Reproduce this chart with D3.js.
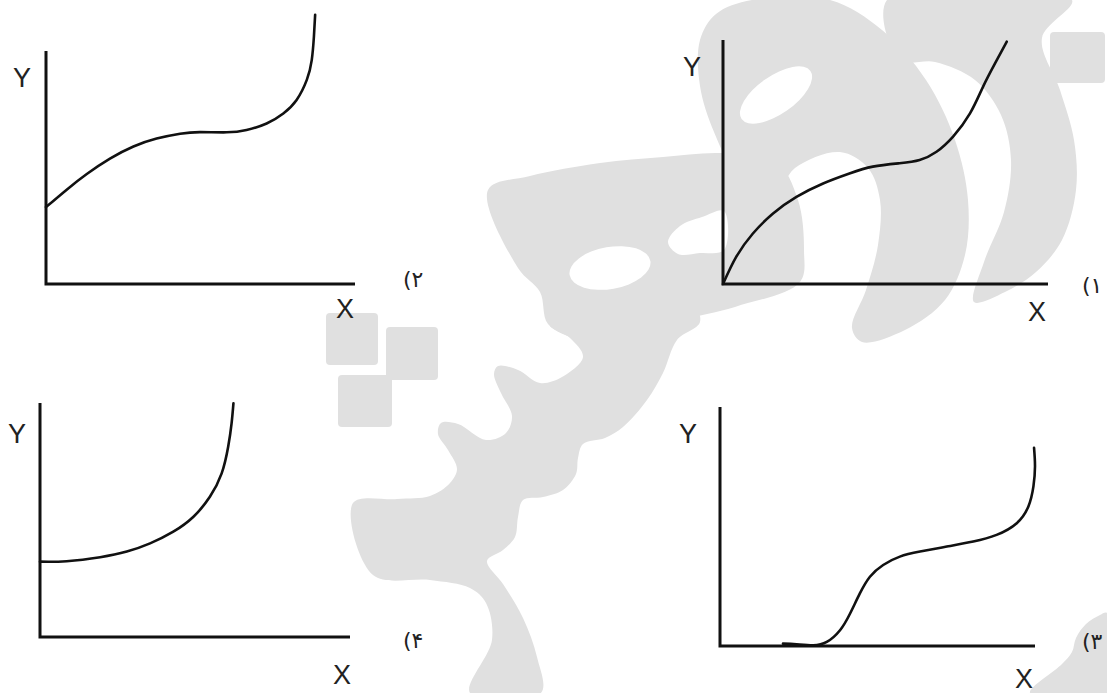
<!DOCTYPE html>
<html>
<head>
<meta charset="utf-8">
<script src="https://cdn.jsdelivr.net/npm/d3@7"></script>
<style>
  html, body { margin: 0; padding: 0; background: #ffffff; }
  svg { display: block; }
</style>
</head>
<body>
<svg id="chart" width="1107" height="693"></svg>
<script>
// ---------- data ----------
// panel order: top-left, top-right, bottom-left, bottom-right
const panelNames = ["(۲", "(۱", "(۴", "(۳"];
const axisLabelX = "X";
const axisLabelY = "Y";

// Panel (۲): rises, flattens, then shoots up
const curve2X = [0, 0.67, 1.32, 2.07, 2.83, 3.58, 4.34, 4.98, 5.85, 6.49, 7.14, 7.68, 8.11, 8.44, 8.60, 8.67, 8.71];
const curve2Y = [3.30, 4.05, 4.72, 5.38, 5.90, 6.24, 6.45, 6.52, 6.51, 6.61, 6.89, 7.32, 7.90, 8.76, 9.61, 10.61, 11.55];

// Panel (۱): from origin, concave then convex
const curve1X = [0, 0.41, 0.92, 1.54, 2.26, 3.08, 3.89, 4.61, 5.43, 6.05, 6.57, 7.08, 7.60, 8.00, 8.37, 8.73];
const curve1Y = [0, 1.12, 2.07, 2.89, 3.57, 4.12, 4.53, 4.81, 4.95, 5.08, 5.42, 6.04, 6.99, 8.08, 9.04, 9.93];

// Panel (۴): convex growth from an intercept
const curve4X = [0, 0.86, 1.94, 2.80, 3.55, 4.30, 4.95, 5.48, 5.86, 6.07, 6.18, 6.24];
const curve4Y = [3.22, 3.24, 3.41, 3.65, 4.00, 4.50, 5.14, 5.99, 6.99, 8.13, 9.13, 9.99];

// Panel (۳): zero, S-rise, plateau, final rise
const curve3X = [2.00, 2.43, 2.96, 3.39, 3.81, 4.13, 4.44, 4.76, 5.18, 5.71, 6.35, 7.20, 8.04, 8.78, 9.42, 9.79, 9.95, 10.00, 9.97];
const curve3Y = [0.10, 0.07, 0.03, 0.17, 0.66, 1.36, 2.20, 2.90, 3.39, 3.74, 3.95, 4.16, 4.37, 4.65, 5.14, 5.84, 6.68, 7.52, 8.29];

// ---------- layout ----------
const panels = [
  { name: panelNames[0], xs: curve2X, ys: curve2Y, x0: 46,  x1: 355,  yb: 284, yt: 51,
    yl: [22, 78],  xl: [345, 309], nl: [403, 287] },
  { name: panelNames[1], xs: curve1X, ys: curve1Y, x0: 723, x1: 1048, yb: 284, yt: 40,
    yl: [692, 67], xl: [1037, 312], nl: [1082, 293] },
  { name: panelNames[2], xs: curve4X, ys: curve4Y, x0: 40,  x1: 350,  yb: 637, yt: 403,
    yl: [17, 434], xl: [342, 675], nl: [403, 648] },
  { name: panelNames[3], xs: curve3X, ys: curve3Y, x0: 720, x1: 1035, yb: 646, yt: 407,
    yl: [688, 434], xl: [1024, 679], nl: [1082, 649] }
];

const svg = d3.select("#chart");

// ---------- watermark (light grey logo shapes) ----------
const wmColor = "#e0e0e0";
const wmShapes = [
  // right stroke
  [[887,0],[1072,0],[1042,38],[1060,90],[1074,140],[1076,190],[1062,240],[1036,272],[1005,292],[974,302],[984,262],[1004,212],[1011,160],[1001,115],[975,80],[935,62],[900,60]],
  // loop shape with tail
  [[700,40],[716,14],[752,0],[830,0],[882,30],[926,80],[955,140],[968,200],[965,255],[945,300],[905,330],[862,342],[852,328],[866,290],[878,245],[880,200],[868,168],[840,152],[795,168],[772,200],[740,180],[714,132],[700,86]],
  // band + he
  [[488,190],[530,176],[600,163],[663,157],[720,153],[775,160],[798,200],[804,250],[800,282],[735,307],[683,322],[660,345],[620,347],[580,340],[548,324],[540,292],[518,268]],
  // lower stroke with teeth
  [[690,300],[700,322],[677,340],[663,373],[647,400],[623,427],[605,438],[583,444],[578,458],[576,474],[563,490],[543,497],[523,500],[518,517],[515,537],[503,550],[487,561],[503,584],[523,618],[537,657],[541,693],[470,693],[492,640],[486,603],[470,588],[430,580],[373,575],[353,503],[397,499],[430,496],[450,483],[457,469],[448,450],[438,434],[441,423],[458,424],[486,440],[506,433],[512,416],[501,393],[494,374],[498,366],[518,370],[540,383],[562,377],[583,357],[570,338],[550,325],[600,312]],
  // bottom-right corner shape
  [[1030,693],[1062,664],[1072,652],[1076,638],[1086,624],[1100,615],[1107,613],[1107,693]]
];
const wmSquares = [[326,313,52,52],[386,327,52,53],[338,375,54,52],[1050,32,55,51]];

const lineClosed = d3.line().curve(d3.curveCatmullRomClosed.alpha(0.5));
const wm = svg.append("g");
wm.selectAll("path.wm").data(wmShapes).join("path")
  .attr("class", "wm").attr("d", d => lineClosed(d)).attr("fill", wmColor);
wm.selectAll("rect.wm").data(wmSquares).join("rect")
  .attr("x", d => d[0]).attr("y", d => d[1]).attr("width", d => d[2]).attr("height", d => d[3])
  .attr("rx", 4).attr("fill", wmColor);
// holes in the logo
wm.append("ellipse").attr("cx", 776).attr("cy", 95).attr("rx", 42).attr("ry", 19)
  .attr("transform", "rotate(-35 776 95)").attr("fill", "#fff");
wm.append("ellipse").attr("cx", 610).attr("cy", 268).attr("rx", 41).attr("ry", 21)
  .attr("transform", "rotate(-10 610 268)").attr("fill", "#fff");
wm.append("path").attr("d", lineClosed([[668,242],[680,226],[702,217],[724,211],[724,250],[700,253],[678,254]]))
  .attr("fill", "#fff");

// ---------- panels ----------
panels.forEach(p => {
  const x = d3.scaleLinear().domain([0, 10]).range([p.x0, p.x1]);
  const y = d3.scaleLinear().domain([0, 10]).range([p.yb, p.yt]);
  const g = svg.append("g");

  // axes
  g.append("path")
    .attr("d", `M${x(0)},${y(10)}V${y(0)}H${x(10)}`)
    .attr("fill", "none").attr("stroke", "#111").attr("stroke-width", 3)
    .attr("stroke-linejoin", "miter");

  // curve
  const pts = p.xs.map((v, i) => [v, p.ys[i]]);
  const line = d3.line().x(d => x(d[0])).y(d => y(d[1])).curve(d3.curveNatural);
  g.append("path").attr("d", line(pts))
    .attr("fill", "none").attr("stroke", "#111").attr("stroke-width", 2.6)
    .attr("stroke-linecap", "round");

  // axis labels
  g.append("text").attr("x", p.yl[0]).attr("y", p.yl[1]).text(axisLabelY)
    .attr("text-anchor", "middle").attr("dominant-baseline", "central")
    .attr("font-family", "Liberation Sans, Arial, sans-serif").attr("font-size", 27).attr("fill", "#222");
  g.append("text").attr("x", p.xl[0]).attr("y", p.xl[1]).text(axisLabelX)
    .attr("text-anchor", "middle").attr("dominant-baseline", "central")
    .attr("font-family", "Liberation Sans, Arial, sans-serif").attr("font-size", 27).attr("fill", "#222");

  // option number, shown as in the reference: "(" then the Persian digit
  g.append("text").attr("x", p.nl[0]).attr("y", p.nl[1]).text(p.name)
    .attr("direction", "ltr").attr("unicode-bidi", "bidi-override")
    .style("direction", "ltr").style("unicode-bidi", "bidi-override")
    .attr("font-family", "DejaVu Sans, sans-serif").attr("font-size", 22).attr("fill", "#222");
});
</script>
</body>
</html>
